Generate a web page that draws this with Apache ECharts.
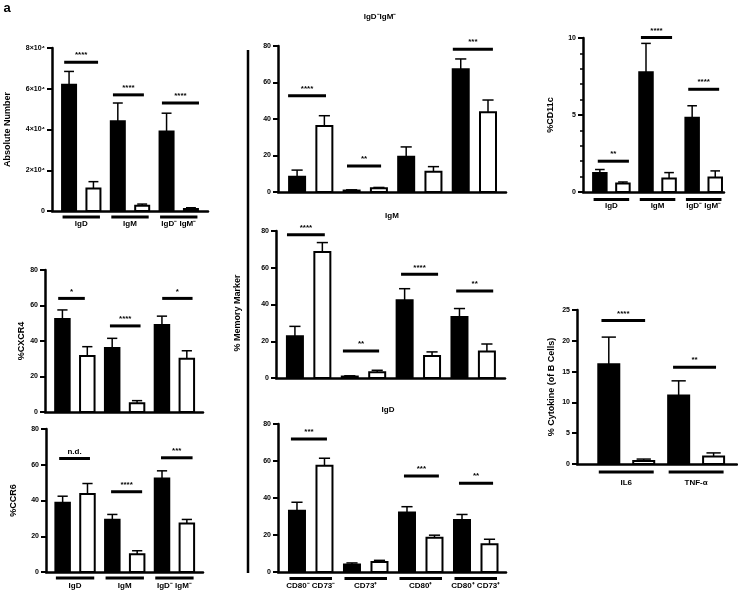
<!DOCTYPE html>
<html>
<head>
<meta charset="utf-8">
<script src="https://cdn.jsdelivr.net/npm/echarts@6/dist/echarts.min.js"></script>
<style>
  html, body { margin: 0; padding: 0; background: #fff; }
  #fig { width: 738px; height: 592px; }
</style>
</head>
<body>
<div id="fig"></div>
<script>
// bars alternate: even index = filled (black), odd index = open (white)
// --- absolute number ---
const absMean = [62000, 11000, 44000, 2600, 39000, 1000];
const absErr = [6500, 3400, 9000, 800, 9000, 600];
const absSig = [[-0.2, 1.19, 73000], [1.8, 3.07, 57000], [3.81, 5.33, 53000]];
const absSigLab = ['****', '****', '****'];

// --- %CXCR4 ---
const cxcr4Mean = [52.4, 31.5, 36, 5, 49, 30];
const cxcr4Err = [5.1, 5.3, 5.5, 1.4, 5, 4.5];
const cxcr4Sig = [[-0.17, 0.9, 64], [1.91, 3.14, 48.5], [4.01, 5.23, 64]];
const cxcr4SigLab = ['*', '****', '*'];

// --- %CCR6 ---
const ccr6Mean = [38.7, 43.6, 29.2, 9.9, 52.3, 27.2];
const ccr6Err = [3.7, 5.9, 3, 2, 4.3, 2.2];
const ccr6Sig = [[-0.14, 1.1, 63.5], [1.95, 3.2, 44.9], [3.96, 5.23, 63.9]];
const ccr6SigLab = ['n.d.', '****', '***'];

const igGroups = ['IgD', 'IgM', 'IgD⁻ IgM⁻'];

// --- memory markers ---
const dnMean = [8.4, 36.2, 0.8, 2.0, 19.3, 11.1, 67.2, 43.7];
const dnErr = [3.6, 5.6, 0.4, 0.5, 5.4, 2.8, 5.7, 6.7];
const dnSig = [[-0.33, 1.06, 52.8], [1.83, 3.08, 14.2], [5.71, 7.18, 78.2]];
const dnSigLab = ['****', '**', '***'];

const igmMean = [22.7, 68.6, 0.8, 3.1, 42.3, 12, 33.2, 14.4];
const igmErr = [5.4, 5.1, 0.4, 1.1, 6.3, 2.2, 4.6, 4.1];
const igmSig = [[-0.29, 1.09, 78], [1.75, 3.07, 14.7], [3.87, 5.22, 56.4], [5.88, 7.23, 47.3]];
const igmSigLab = ['****', '**', '****', '**'];

const igdMean = [33.1, 57.4, 4.0, 5.4, 32.2, 18.5, 28.1, 15];
const igdErr = [4.6, 4.1, 0.9, 0.9, 3.1, 1.4, 3, 2.7];
const igdSig = [[-0.22, 1.09, 71.9], [3.89, 5.16, 51.9], [5.89, 7.13, 48]];
const igdSigLab = ['***', '***', '**'];

const markerGroups = ['CD80⁻ CD73⁻', 'CD73⁺', 'CD80⁺', 'CD80⁺ CD73⁺'];

// --- %CD11c ---
const cd11cMean = [1.24, 0.55, 7.78, 0.87, 4.82, 0.94];
const cd11cErr = [0.22, 0.1, 1.87, 0.39, 0.78, 0.43];
const cd11cSig = [[-0.09, 1.26, 2.0], [1.78, 3.13, 10.04], [3.83, 5.17, 6.67]];
const cd11cSigLab = ['**', '****', '****'];

// --- cytokines ---
const cytoMean = [16.2, 0.5, 11.1, 1.2];
const cytoErr = [4.4, 0.3, 2.4, 0.6];
const cytoSig = [[-0.21, 1.04, 23.3], [1.84, 3.07, 15.7]];
const cytoSigLab = ['****', '**'];
const cytoGroups = ['IL6', 'TNF-α'];

const FONT = 'Liberation Sans, Arial, sans-serif';

const panels = [
  { grid: { left: 52, top: 48, width: 156, height: 163 }, xMin: -0.7, xMax: 5.7, yMax: 80000, yInt: 20000,
    barW: 16, mean: absMean, err: absErr, sig: absSig, sigLab: absSigLab, groups: igGroups, gOff: [6, 13],
    yName: 'Absolute Number', nameGap: 40, fmt: v => v === 0 ? '0' : (v / 10000) + '×10⁴' },
  { grid: { left: 45, top: 270, width: 158, height: 142 }, xMin: -0.7, xMax: 5.65, yMax: 80, yInt: 20,
    barW: 16.5, mean: cxcr4Mean, err: cxcr4Err, sig: cxcr4Sig, sigLab: cxcr4SigLab,
    yName: '%CXCR4', nameGap: 17 },
  { grid: { left: 46, top: 429, width: 157, height: 143 }, xMin: -0.67, xMax: 5.65, yMax: 80, yInt: 20,
    barW: 16.5, mean: ccr6Mean, err: ccr6Err, sig: ccr6Sig, sigLab: ccr6SigLab, groups: igGroups, gOff: [6, 14],
    yName: '%CCR6', nameGap: 28 },
  { grid: { left: 278, top: 46, width: 228, height: 146 }, xMin: -0.7, xMax: 7.66, yMax: 80, yInt: 20,
    barW: 18, mean: dnMean, err: dnErr, sig: dnSig, sigLab: dnSigLab },
  { grid: { left: 276, top: 231, width: 229, height: 147 }, xMin: -0.69, xMax: 7.66, yMax: 80, yInt: 20,
    barW: 18, mean: igmMean, err: igmErr, sig: igmSig, sigLab: igmSigLab },
  { grid: { left: 278, top: 424, width: 228, height: 148 }, xMin: -0.69, xMax: 7.6, yMax: 80, yInt: 20,
    barW: 18, mean: igdMean, err: igdErr, sig: igdSig, sigLab: igdSigLab, groups: markerGroups, gOff: [6.6, 13.5] },
  { grid: { left: 583, top: 38, width: 141, height: 154 }, xMin: -0.73, xMax: 5.38, yMax: 10, yInt: 5,
    barW: 15.5, mean: cd11cMean, err: cd11cErr, sig: cd11cSig, sigLab: cd11cSigLab, groups: igGroups, gOff: [7.6, 14],
    yName: '%CD11c', nameGap: 28, minor: true },
  { grid: { left: 577, top: 310, width: 160, height: 154 }, xMin: -0.91, xMax: 3.67, yMax: 25, yInt: 5,
    barW: 23, mean: cytoMean, err: cytoErr, sig: cytoSig, sigLab: cytoSigLab, groups: cytoGroups, gOff: [8, 19],
    yName: '% Cytokine (of B Cells)', nameGap: 21 }
];

function barRender(barW) {
  return function (params, api) {
    const i = api.value(0), m = api.value(1), e = api.value(2);
    const base = api.coord([i, 0]);
    const top = api.coord([i, m]);
    const tip = api.coord([i, m + e]);
    const capW = barW * 0.62;
    const es = { stroke: '#000', lineWidth: 1.5 };
    return {
      type: 'group',
      children: [
        { type: 'line', shape: { x1: top[0], y1: top[1], x2: tip[0], y2: tip[1] }, style: es },
        { type: 'line', shape: { x1: tip[0] - capW / 2, y1: tip[1], x2: tip[0] + capW / 2, y2: tip[1] }, style: es },
        { type: 'rect', shape: { x: base[0] - barW / 2 + 1, y: top[1], width: barW - 2, height: Math.max(base[1] - top[1], 0.5) },
          style: { fill: i % 2 === 0 ? '#000' : '#fff', stroke: '#000', lineWidth: 2 } }
      ]
    };
  };
}

function sigRender(labels) {
  return function (params, api) {
    const a = api.coord([api.value(0), api.value(2)]);
    const b = api.coord([api.value(1), api.value(2)]);
    return {
      type: 'group',
      children: [
        { type: 'line', shape: { x1: a[0], y1: a[1], x2: b[0], y2: b[1] }, style: { stroke: '#000', lineWidth: 3 } },
        { type: 'text', style: { text: labels[params.dataIndex], x: (a[0] + b[0]) / 2, y: a[1] - 3,
          align: 'center', verticalAlign: 'bottom', font: 'bold 8px ' + FONT, fill: '#000' } }
      ]
    };
  };
}

function groupRender(labels, barW, off) {
  return function (params, api) {
    const s = api.value(0);
    const a = api.coord([s, 0]);
    const b = api.coord([s + 1, 0]);
    const x1 = a[0] - barW / 2 + 1.5, x2 = b[0] + barW / 2 - 1.5;
    return {
      type: 'group',
      children: [
        { type: 'line', shape: { x1: x1, y1: a[1] + off[0], x2: x2, y2: a[1] + off[0] }, style: { stroke: '#000', lineWidth: 3 } },
        { type: 'text', style: { text: labels[params.dataIndex], x: (x1 + x2) / 2, y: a[1] + off[1],
          align: 'center', verticalAlign: 'middle', font: 'bold 8px ' + FONT, fill: '#000' } }
      ]
    };
  };
}

const grids = [], xAxes = [], yAxes = [], series = [];
panels.forEach((p, k) => {
  grids.push(p.grid);
  xAxes.push({
    type: 'value', gridIndex: k, min: p.xMin, max: p.xMax,
    axisLine: { show: true, onZero: false, lineStyle: { color: '#000', width: 2.5 } },
    axisTick: { show: false }, axisLabel: { show: false }, splitLine: { show: false }
  });
  yAxes.push({
    type: 'value', gridIndex: k, min: 0, max: p.yMax, interval: p.yInt,
    name: p.yName || '', nameLocation: 'middle', nameRotate: 90, nameGap: p.nameGap || 0,
    nameTextStyle: { fontFamily: FONT, fontWeight: 'bold', fontSize: 9, color: '#000' },
    axisLine: { show: true, onZero: false, lineStyle: { color: '#000', width: 2.5 } },
    axisTick: { show: true, inside: false, length: 5, lineStyle: { color: '#000', width: 2 } },
    minorTick: { show: !!p.minor, splitNumber: 5, length: 3, lineStyle: { color: '#000', width: 1.5 } },
    axisLabel: { margin: 7, fontFamily: FONT, fontWeight: 'bold', fontSize: 7, color: '#000', formatter: p.fmt },
    splitLine: { show: false }
  });
  series.push({
    type: 'custom', xAxisIndex: k, yAxisIndex: k, renderItem: barRender(p.barW),
    data: p.mean.map((m, i) => [i, m, p.err[i]]), silent: true
  });
  series.push({
    type: 'custom', xAxisIndex: k, yAxisIndex: k, renderItem: sigRender(p.sigLab),
    data: p.sig, silent: true
  });
  if (p.groups) {
    series.push({
      type: 'custom', xAxisIndex: k, yAxisIndex: k, renderItem: groupRender(p.groups, p.barW, p.gOff),
      data: p.groups.map((g, i) => [i * 2, 0]), silent: true
    });
  }
});

const txt = (text, x, y, size, rot) => ({
  type: 'text', x: x, y: y, rotation: rot || 0,
  style: { text: text, align: 'center', verticalAlign: 'middle', font: 'bold ' + size + 'px ' + FONT, fill: '#000' }
});

const chart = echarts.init(document.getElementById('fig'));
chart.setOption({
  animation: false,
  grid: grids,
  xAxis: xAxes,
  yAxis: yAxes,
  series: series,
  graphic: [
    txt('a', 7, 8, 13),
    txt('IgD⁻IgM⁻', 380, 17, 8),
    txt('IgM', 392, 216, 8),
    txt('IgD', 388, 410, 8),
    txt('% Memory Marker', 238, 313, 9, Math.PI / 2),
    { type: 'line', shape: { x1: 248, y1: 50, x2: 248, y2: 573 }, style: { stroke: '#000', lineWidth: 2.5 } }
  ]
});
</script>
</body>
</html>
